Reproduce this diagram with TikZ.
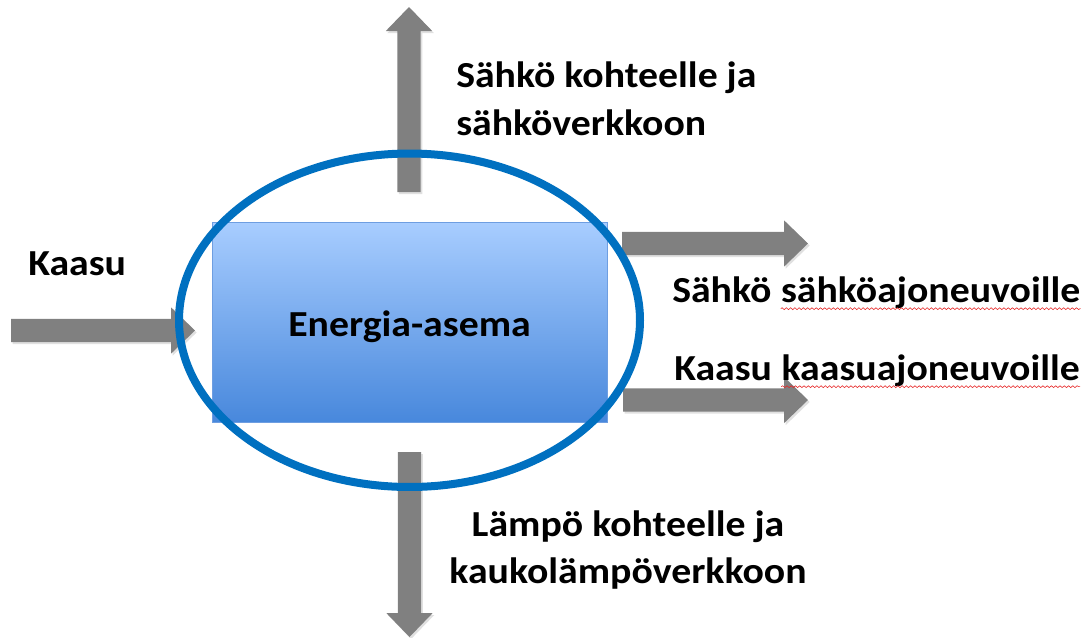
\documentclass[tikz,border=0pt]{standalone}
\usepackage{fontspec}
\setmainfont{Carlito}
\newfontfamily\lblfont[FakeStretch=1.085]{Carlito}
\usetikzlibrary{calc,shapes.geometric,decorations.pathmorphing}

\definecolor{arrowgray}{RGB}{128,128,128}
\definecolor{ringblue}{RGB}{0,112,192}
\definecolor{boxtop}{RGB}{168,205,255}
\definecolor{boxbottom}{RGB}{72,136,220}
\definecolor{boxline}{RGB}{110,158,225}
\definecolor{spellred}{RGB}{230,40,40}

\begin{document}
\begin{tikzpicture}[x=0.75pt,y=-0.75pt,
  % wide block arrow from the start coordinate to the tip coordinate
  blockarrow/.style={fill=arrowgray, to path={
      ($(\tikztostart)!8.8pt!90:(\tikztotarget)$)
      -- ($($(\tikztotarget)!18pt!(\tikztostart)$)!8.8pt!90:(\tikztotarget)$)
      -- ($($(\tikztotarget)!18pt!(\tikztostart)$)!17.4pt!90:(\tikztotarget)$)
      -- (\tikztotarget)
      -- ($($(\tikztotarget)!18pt!(\tikztostart)$)!17.4pt!-90:(\tikztotarget)$)
      -- ($($(\tikztotarget)!18pt!(\tikztostart)$)!8.8pt!-90:(\tikztotarget)$)
      -- ($(\tikztostart)!8.8pt!-90:(\tikztotarget)$) -- cycle}},
  arrowshadow/.style={blockarrow, fill=black, fill opacity=0.12,
      transform canvas={shift={(1.2pt,-1.5pt)}}},
  txt/.style={font=\lblfont\bfseries\fontsize{27.5}{36}\selectfont, inner sep=0pt, text=black},
  spell/.style={draw=spellred, line width=0.45pt,
      decorate, decoration={snake, segment length=3.2pt, amplitude=0.7pt}},
]
\useasboundingbox (0,0) rectangle (1090,637);

% arrow end points
\coordinate (in-tail)  at (11,330.5);
\coordinate (in-tip)   at (195,330.5);
\coordinate (up-tail)  at (409,192);
\coordinate (up-tip)   at (409,7);
\coordinate (ev-tail)  at (622,243.5);
\coordinate (ev-tip)   at (808,243.5);
\coordinate (gv-tail)  at (623,400);
\coordinate (gv-tip)   at (808,400);
\coordinate (dn-tail)  at (409.5,452);
\coordinate (dn-tip)   at (409.5,637);

% shadows of the arrows
\foreach \a in {in,up,ev,gv,dn}
  \path[arrowshadow] (\a-tail) to (\a-tip);

% arrows
\foreach \a in {in,up,ev,gv,dn}
  \path[blockarrow] (\a-tail) to (\a-tip);

% the station
\node[rectangle, minimum width=296.25pt, minimum height=150pt, inner sep=0pt,
      top color=boxtop, bottom color=boxbottom, draw=boxline, line width=0.6pt]
      (station) at (409.5,322) {};
\node[txt, anchor=base] (station-label) at ([yshift=-10.5pt]station.center) {Energia-asema};

% ring round the station
\node[ellipse, draw=ringblue, line width=6pt, minimum width=345.75pt,
      minimum height=250.1pt, inner sep=0pt] (ring) at (409.5,320.25) {};

% labels
\node[txt, anchor=base west] (gas-in) at (28,275) {Kaasu};

\node[txt, anchor=base west] (el-out1) at (456,87)  {Sähkö kohteelle ja};
\node[txt, anchor=base west] (el-out2) at (456,135) {sähköverkkoon};

\node[txt, anchor=base west] (ev-a) at (672,302) {Sähkö};
\node[txt, anchor=base west] (ev-b) at ([xshift=6.8pt]ev-a.base east) {sähköajoneuvoille};

\node[txt, anchor=base west] (gv-a) at (674,380) {Kaasu};
\node[txt, anchor=base west] (gv-b) at ([xshift=6.8pt]gv-a.base east) {kaasuajoneuvoille};

\node[txt, anchor=base] (heat1) at (628,536) {Lämpö kohteelle ja};
\node[txt, anchor=base] (heat2) at (628,583) {kaukolämpöverkkoon};

% spelling marks under the long words
\path[spell] ([yshift=-5pt]ev-b.base west) -- ([yshift=-5pt]ev-b.base east);
\path[spell] ([yshift=-5pt]gv-b.base west) -- ([yshift=-5pt]gv-b.base east);
\end{tikzpicture}
\end{document}
